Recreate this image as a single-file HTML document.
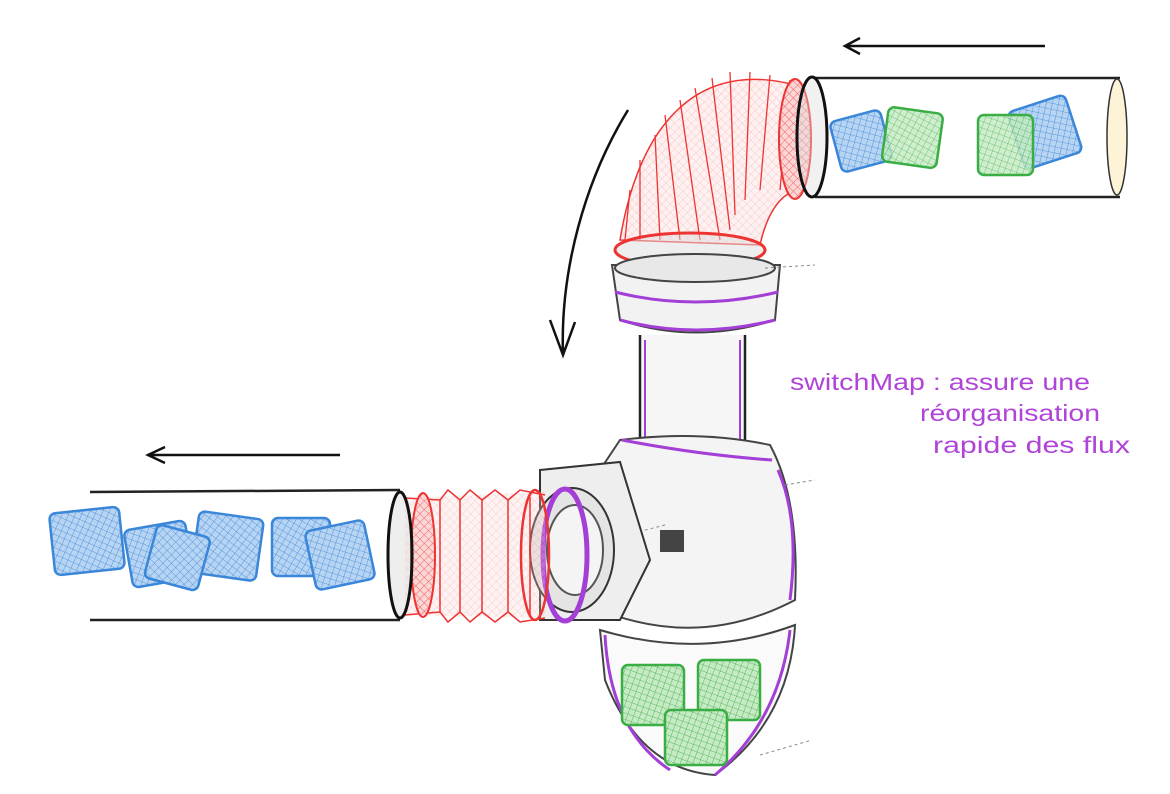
<!DOCTYPE html>
<html><head><meta charset="utf-8"><style>
html,body{margin:0;padding:0;background:#fff;}
svg{display:block}
text{font-family:"Liberation Sans",sans-serif;fill:#b044d8;font-size:23px}
</style></head><body>
<svg width="1170" height="794" viewBox="0 0 1170 794" xmlns="http://www.w3.org/2000/svg">
<defs>
<pattern id="hb" width="6" height="6" patternUnits="userSpaceOnUse" patternTransform="rotate(30)"><rect width="6" height="6" fill="#b8d4f3"/><path d="M0 0V6M0 0H6" stroke="#3a86d8" stroke-width="0.8"/></pattern>
<pattern id="hg" width="6" height="6" patternUnits="userSpaceOnUse" patternTransform="rotate(20)"><rect width="6" height="6" fill="#c6ebc4"/><path d="M0 0V6M0 0H6" stroke="#3aad45" stroke-width="0.8"/></pattern>
<pattern id="hr" width="6" height="6" patternUnits="userSpaceOnUse" patternTransform="rotate(45)"><rect width="6" height="6" fill="#fbd6d6"/><path d="M0 0V6M0 0H6" stroke="#e44" stroke-width="0.8"/></pattern>
</defs>

<path d="M1045 46 L845 46 M860 38 L845 46 L860 54" stroke="#111" stroke-width="2.5" fill="none"/>
<path d="M628 110 C585 180 560 270 563 355 M550 320 L563 355 L575 322" stroke="#111" stroke-width="2.5" fill="none"/>
<path d="M340 455 L148 455 M165 447 L148 455 L165 463" stroke="#111" stroke-width="2.5" fill="none"/>

<path d="M815 78 L1120 78 M815 197 L1120 197" stroke="#222" stroke-width="2.5"/>
<ellipse cx="1117" cy="137" rx="10" ry="58" fill="#fdf4d8" stroke="#333" stroke-width="1.5"/>
<g stroke="#3a86d8" stroke-width="2.5" fill="url(#hb)">
<rect x="835" y="115" width="52" height="52" rx="6" transform="rotate(-15 861 141)"/>
<rect x="1015" y="102" width="60" height="60" rx="6" transform="rotate(-18 1045 132)"/>
</g>
<g stroke="#3aad45" stroke-width="2.5" fill="url(#hg)" fill-opacity=".85">
<rect x="885" y="110" width="55" height="55" rx="6" transform="rotate(8 912 137)"/>
<rect x="978" y="115" width="55" height="60" rx="6"/>
</g>
<path d="M795 85 C700 60 640 120 620 240 L760 245 C770 200 790 190 800 190 Z" fill="url(#hr)" fill-opacity=".35" stroke="#e33" stroke-width="1.5"/>
<g stroke="#e33" stroke-width="1.3" fill="none">
<path d="M790 80 L780 190 M770 75 L760 190 M750 72 L745 200 M730 72 L735 215 M712 78 L730 230 M695 88 L720 240 M680 100 L700 240 M665 115 L680 240 M655 135 L660 240 M640 160 L640 240 M630 190 L625 240"/>
</g>
<ellipse cx="795" cy="139" rx="16" ry="60" fill="url(#hr)" stroke="#e33" stroke-width="2"/>
<ellipse cx="812" cy="137" rx="15" ry="60" fill="#ddd" fill-opacity=".4" stroke="#111" stroke-width="3"/>
<ellipse cx="690" cy="250" rx="75" ry="17" fill="#ddd" fill-opacity=".5" stroke="#e33" stroke-width="3"/>

<path d="M612 265 L780 265 L775 320 Q695 345 620 320 Z" fill="#f2f2f2" stroke="#444" stroke-width="2"/>
<ellipse cx="695" cy="268" rx="80" ry="14" fill="#e8e8e8" stroke="#444" stroke-width="2"/>
<path d="M615 292 Q695 312 778 292 M620 320 Q695 340 775 320" stroke="#a33fd6" stroke-width="3" fill="none"/>
<rect x="640" y="335" width="105" height="120" fill="#f6f6f6"/>
<path d="M640 335 L640 455 M745 335 L745 455" stroke="#222" stroke-width="2.5"/>
<path d="M645 340 L645 450 M740 340 L740 450" stroke="#a33fd6" stroke-width="2"/>
<path d="M620 440 Q700 430 770 445 Q800 500 795 600 Q700 650 600 610 L600 470 Z" fill="#f4f4f4" stroke="#444" stroke-width="2"/>
<path d="M622 440 Q700 455 772 460" stroke="#a33fd6" stroke-width="3" fill="none"/>
<path d="M778 470 Q800 520 790 600" stroke="#a33fd6" stroke-width="3" fill="none"/>
<rect x="660" y="530" width="24" height="22" fill="#444"/>
<path d="M600 630 Q700 660 795 625 Q790 720 715 775 Q640 770 605 680 Z" fill="#fafafa" stroke="#444" stroke-width="2"/>
<path d="M605 635 Q610 730 670 770 M790 630 Q780 720 715 775" stroke="#a33fd6" stroke-width="3" fill="none"/>
<g stroke="#3aad45" stroke-width="2.5" fill="url(#hg)">
<rect x="622" y="665" width="62" height="60" rx="6"/>
<rect x="698" y="660" width="62" height="60" rx="6"/>
<rect x="665" y="710" width="62" height="55" rx="6"/>
</g>
<path d="M765 268 L815 265 M785 485 L815 480 M575 548 L665 525 M760 755 L812 740" stroke="#888" stroke-dasharray="3 3"/>
<path d="M540 470 L620 462 L650 560 L620 620 L540 620 Z" fill="#eee" stroke="#333" stroke-width="2"/>
<ellipse cx="572" cy="550" rx="42" ry="62" fill="#e4e4e4" stroke="#333" stroke-width="2"/>
<ellipse cx="575" cy="550" rx="28" ry="45" fill="#f4f4f4" stroke="#555" stroke-width="2"/>
<ellipse cx="565" cy="555" rx="22" ry="66" fill="none" stroke="#a33fd6" stroke-width="5"/>

<path d="M90 492 L400 490 M90 620 L400 620" stroke="#222" stroke-width="2.5"/>
<g stroke="#3a86d8" stroke-width="2.5" fill="url(#hb)">
<rect x="52" y="510" width="70" height="62" rx="6" transform="rotate(-6 87 541)"/>
<rect x="128" y="525" width="62" height="58" rx="6" transform="rotate(-10 159 554)"/>
<rect x="195" y="515" width="65" height="62" rx="6" transform="rotate(8 227 546)"/>
<rect x="150" y="530" width="55" height="55" rx="6" transform="rotate(15 177 557)"/>
<rect x="272" y="518" width="58" height="58" rx="6"/>
<rect x="310" y="525" width="60" height="60" rx="6" transform="rotate(-12 340 555)"/>
</g>
<path d="M405 498 L545 492 L545 618 L405 615 Z" fill="url(#hr)" fill-opacity=".3" stroke="none"/>
<g stroke="#e33" stroke-width="1.5" fill="none">
<path d="M405 498 L440 500 L448 490 L460 500 L470 490 L482 500 L495 490 L508 500 L520 490 L545 495"/>
<path d="M405 615 L440 612 L448 622 L460 612 L470 622 L482 612 L495 622 L508 612 L520 622 L545 618"/>
<path d="M440 500 L440 612 M460 500 L460 612 M482 500 L482 612 M508 500 L508 612 M530 497 L530 615"/>
</g>
<ellipse cx="423" cy="555" rx="12" ry="62" fill="url(#hr)" stroke="#e33" stroke-width="2"/>
<ellipse cx="400" cy="555" rx="12" ry="63" fill="#ddd" fill-opacity=".5" stroke="#111" stroke-width="3"/>
<ellipse cx="535" cy="555" rx="14" ry="65" fill="none" stroke="#e33" stroke-width="2.5"/>

<text x="790" y="390" textLength="300" lengthAdjust="spacingAndGlyphs">switchMap : assure une</text>
<text x="920" y="421" textLength="180" lengthAdjust="spacingAndGlyphs">réorganisation</text>
<text x="933" y="453" textLength="197" lengthAdjust="spacingAndGlyphs">rapide des flux</text>
</svg>
</body></html>
